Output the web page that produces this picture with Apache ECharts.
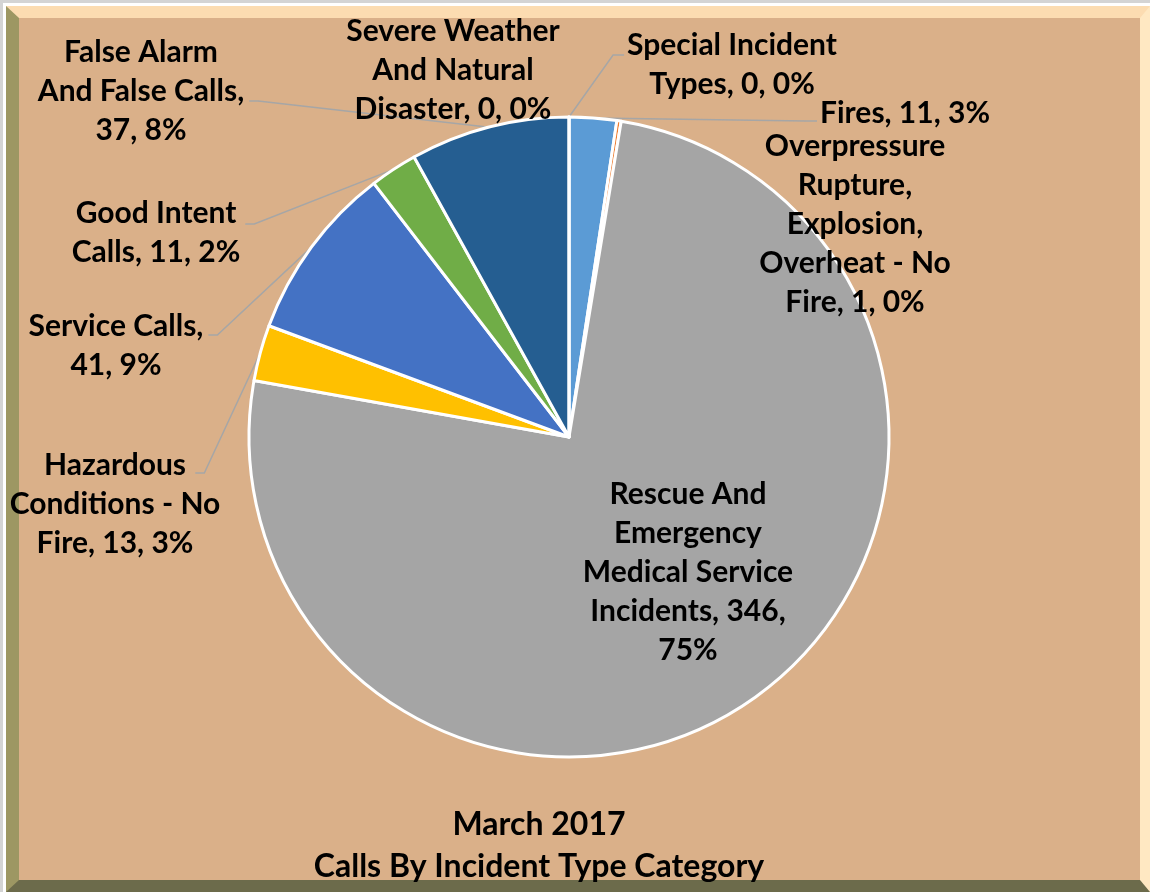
<!DOCTYPE html>
<html>
<head>
<meta charset="utf-8">
<script src="https://cdn.jsdelivr.net/npm/echarts@6/dist/echarts.min.js"></script>
<style>
    html, body {
        margin: 0;
        padding: 0;
        background: #ffffff;
    }
    .frame {
        position: absolute;
        left: 0;
        top: 0;
        width: 1150px;
        height: 892px;
        box-sizing: border-box;
        border-top: 3px solid #d4d4d4;
        border-left: 3px solid #d4d4d4;
    }
    .bevel {
        position: absolute;
        left: 6px;
        top: 6px;
        width: 1144px;
        height: 886px;
        box-sizing: border-box;
        background: #dab089;
        border-top: 12px solid #fcdcb1;
        border-left: 13px solid #9d9763;
        border-right: 10px solid #ffe8c2;
        border-bottom: 12px solid #6c6b4b;
    }
    #main {
        position: absolute;
        left: 0;
        top: 0;
        width: 1150px;
        height: 892px;
    }
</style>
</head>
<body>
<div class="frame"></div>
<div class="bevel"></div>
<div id="main"></div>
<script>
// 数据
var categories = [
    'Special Incident Types',
    'Fires',
    'Overpressure Rupture, Explosion, Overheat - No Fire',
    'Rescue And Emergency Medical Service Incidents',
    'Hazardous Conditions - No Fire',
    'Service Calls',
    'Good Intent Calls',
    'False Alarm And False Calls',
    'Severe Weather And Natural Disaster'
];
var calls = [0, 11, 1, 346, 13, 41, 11, 37, 0];
var titleLines = ['March 2017', 'Calls By Incident Type Category'];

var colors = ['#636363', '#5b9bd5', '#ed7d31', '#a5a5a5', '#ffc000', '#4472c4', '#70ad47', '#255e91', '#9e480e'];

// 标签位置（中心点）、换行词数、引线方向、引线内缩
var labelSpot = [
    {x: 732, y: 65,  lines: [2, 3],          side: 'left',  dy: -10, inset: 0},
    {x: 905, y: 113, lines: [3],             side: 'left',  dy: 8,   inset: 0},
    {x: 855, y: 224, lines: [1, 1, 1, 3, 3], side: null},
    {x: 688, y: 572, lines: [2, 1, 2, 2, 1], side: null},
    {x: 115, y: 504, lines: [1, 3, 3],       side: 'right', dy: -31, inset: 30},
    {x: 116, y: 346, lines: [2, 2],          side: 'right', dy: -11, inset: 0},
    {x: 156, y: 233, lines: [2, 3],          side: 'right', dy: -9,  inset: 0},
    {x: 141, y: 91,  lines: [2, 3, 2],       side: 'right', dy: 10,  inset: 0},
    {x: 453, y: 70,  lines: [2, 2, 3],       side: null}
];

function wrapLabel(text, counts) {
    var words = text.split(' ');
    var out = [];
    var k = 0;
    for (var i = 0; i < counts.length; i++) {
        out.push(words.slice(k, k + counts[i]).join(' '));
        k += counts[i];
    }
    if (k < words.length) {
        out[out.length - 1] += ' ' + words.slice(k).join(' ');
    }
    return out.join('\n');
}

var pieData = [];
for (var i = 0; i < categories.length; i++) {
    var spot = labelSpot[i];
    pieData.push({
        name: categories[i],
        value: calls[i],
        itemStyle: {color: colors[i]},
        label: {position: i === 3 ? 'inside' : 'outside'},
        labelLine: {show: !!spot.side}
    });
}

var myChart = echarts.init(document.getElementById('main'));
var option = {
    backgroundColor: 'transparent',
    animation: false,
    title: {
        text: titleLines.join('\n'),
        left: 534,
        top: 799,
        textAlign: 'center',
        textStyle: {
            fontFamily: 'Lato',
            fontSize: 32,
            fontWeight: 'bold',
            color: '#000000',
            lineHeight: 42
        }
    },
    series: [
        {
            type: 'pie',
            center: [569, 437],
            radius: 320,
            startAngle: 90,
            clockwise: true,
            percentPrecision: 0,
            avoidLabelOverlap: false,
            data: pieData,
            itemStyle: {
                borderColor: '#ffffff',
                borderWidth: 3
            },
            label: {
                show: true,
                fontFamily: 'Lato',
                fontSize: 30,
                fontWeight: 'bold',
                color: '#000000',
                lineHeight: 39,
                align: 'center',
                formatter: function (p) {
                    var txt = p.name + ', ' + p.value + ', ' + p.percent + '%';
                    return wrapLabel(txt, labelSpot[p.dataIndex].lines);
                }
            },
            labelLine: {
                lineStyle: {
                    color: '#a6a6a6',
                    width: 1.5
                }
            },
            labelLayout: function (params) {
                var spot = labelSpot[params.dataIndex];
                var res = {
                    x: spot.x,
                    y: spot.y,
                    align: 'center',
                    verticalAlign: 'middle'
                };
                if (spot.side && params.labelLinePoints) {
                    var w = params.labelRect.width;
                    var p0 = params.labelLinePoints[0];
                    var end, mid;
                    if (spot.side === 'left') {
                        end = [spot.x - w / 2 - 3 + spot.inset, spot.y + spot.dy];
                        mid = [end[0] - 11, end[1]];
                    } else {
                        end = [spot.x + w / 2 + 5 - spot.inset, spot.y + spot.dy];
                        mid = [end[0] + 9, end[1]];
                    }
                    res.labelLinePoints = [p0, mid, end];
                }
                return res;
            }
        }
    ]
};
myChart.setOption(option);
</script>
</body>
</html>
